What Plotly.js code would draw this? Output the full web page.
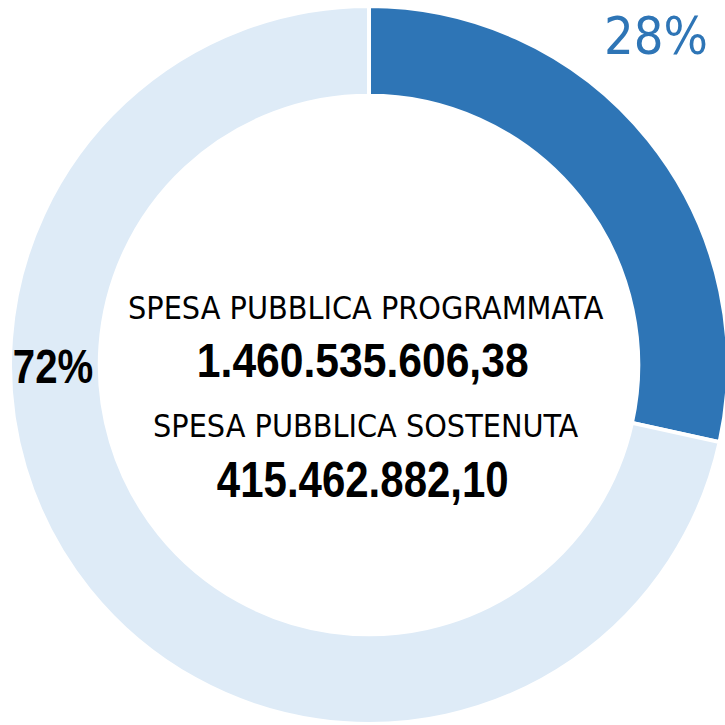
<!DOCTYPE html>
<html><head><meta charset="utf-8">
<script src="https://cdn.plot.ly/plotly-3.0.1.min.js"></script>
<style>html,body{margin:0;padding:0;overflow:hidden;background:#fff}</style>
</head><body><div id="chart"></div>
<script>
const sliceLabels = ["Spesa pubblica sostenuta", "Spesa pubblica non sostenuta"];
const spesaProgrammata = 1460535606.38;
const spesaSostenuta = 415462882.10;
const sliceValues = [spesaSostenuta, spesaProgrammata - spesaSostenuta];
const sliceColors = ["#2E75B6", "#DEEBF7"];
const centerTitles = ["SPESA PUBBLICA PROGRAMMATA", "SPESA PUBBLICA SOSTENUTA"];
const centerValues = ["1.460.535.606,38", "415.462.882,10"];

const W = 730, H = 730;
const cx = 369, cy = 365, r = 359;
const total = sliceValues.reduce((a,b)=>a+b,0);
const pct = sliceValues.map(v => Math.round(v/total*100) + "%");
const px = x => x / W, py = y => 1 - y / H;
const condensed = "'DejaVu Sans Condensed', sans-serif";
const arial = "'Liberation Sans', Arial, sans-serif";

const trace = {
  type: "pie",
  labels: sliceLabels,
  values: sliceValues,
  hole: 0.75,
  sort: false,
  direction: "clockwise",
  rotation: 0,
  textinfo: "none",
  hoverinfo: "label+percent",
  marker: {colors: sliceColors, line: {color: "#ffffff", width: 4}},
  domain: {x: [px(cx - r), px(cx + r)], y: [py(cy + r), py(cy - r)]},
  showlegend: false
};

const ann = (text, x, y, size, color, weight, family) => ({
  text, x: px(x), y: py(y), xref: "paper", yref: "paper",
  xanchor: "center", yanchor: "middle", showarrow: false,
  font: {family, size, color, weight}
});

const layout = {
  width: W, height: H,
  margin: {l: 0, r: 0, t: 0, b: 0},
  paper_bgcolor: "#ffffff",
  annotations: [
    ann(pct[0], 656, 36, 52, sliceColors[0], 400, condensed),
    ann(pct[1], 53, 366, 49, "#000000", 700, arial),
    ann(centerTitles[0], 366, 308, 32, "#000000", 400, condensed),
    ann(centerValues[0], 362, 360, 49, "#000000", 700, arial),
    ann(centerTitles[1], 366, 426, 32, "#000000", 400, condensed),
    ann(centerValues[1], 363, 480, 50, "#000000", 700, arial)
  ]
};

// horizontal condensing of the bold number labels (narrow-face look)
const narrowScale = {1: 0.82, 3: 0.87, 5: 0.84};

Plotly.newPlot("chart", [trace], layout, {displayModeBar: false, staticPlot: true}).then(gd => {
  gd.querySelectorAll("g.annotation").forEach(g => {
    const idx = g.getAttribute("data-index");
    const s = narrowScale[idx];
    if (!s) return;
    const t = g.querySelector("text.annotation-text");
    if (!t) return;
    const bb = t.getBBox();
    const c = bb.x + bb.width / 2;
    const prev = t.getAttribute("transform") || "";
    t.setAttribute("transform", prev + ` translate(${c},0) scale(${s},1) translate(${-c},0)`);
  });
});
</script></body></html>
